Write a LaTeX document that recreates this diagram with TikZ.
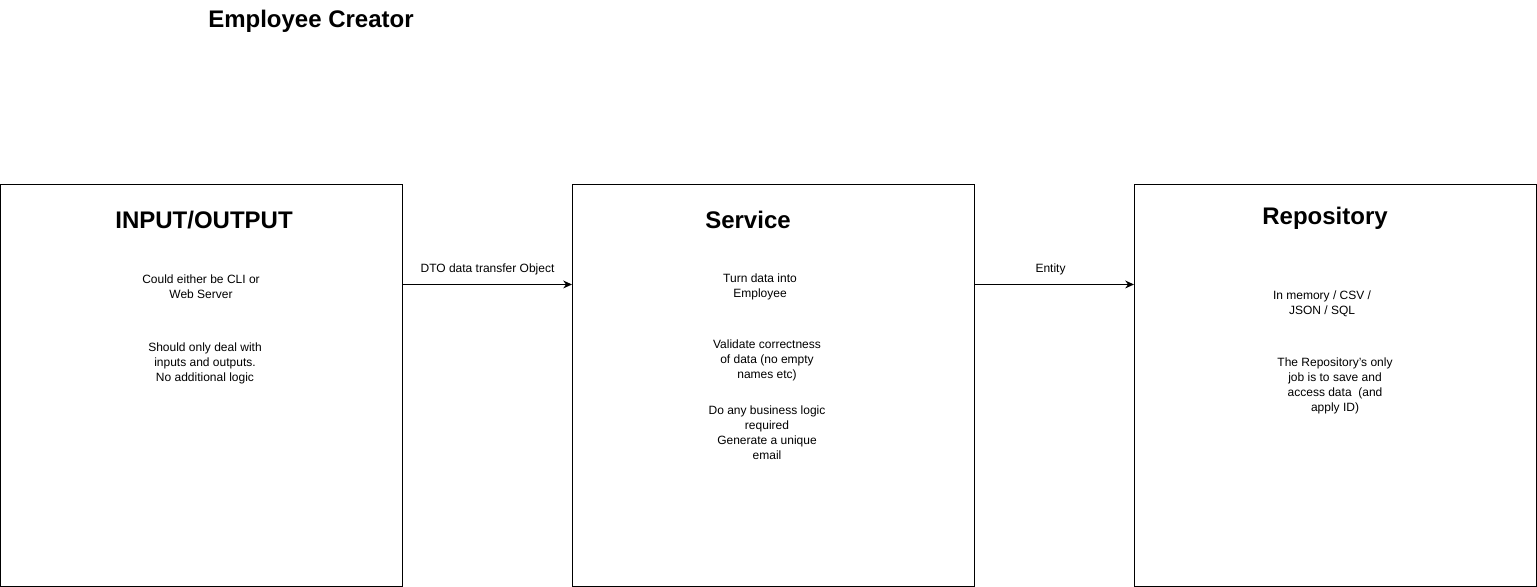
\documentclass[tikz,border=0pt]{standalone}
\usepackage{fontspec}
\setmainfont{Liberation Sans}
\usetikzlibrary{calc}
\usetikzlibrary{positioning}
\usetikzlibrary{arrows.meta}

\begin{document}
\begin{tikzpicture}[x=0.02cm, y=-0.02cm, >=Stealth]
			\tikzset{
				layer/.style={draw, line width=0.6pt, minimum width=402*0.02cm, minimum height=402*0.02cm, inner sep=0pt},
				heading/.style={font=\fontsize{13.66}{16}\selectfont\bfseries},
				note/.style={font=\fontsize{6.83}{8.54}\selectfont, align=center, inner sep=0pt},
				flow/.style={->, line width=0.6pt, >={Stealth[length=5pt,width=4.5pt]}}
			}
			\useasboundingbox (0,0) rectangle (1537,587);
			\node[heading] (title) at (311,21) {Employee Creator};
			% the three layers
			\node[layer] (io) at (201.5,385.5) {};
			\node[layer] (svc) at (773.5,385.5) {};
			\node[layer] (repo) at (1335.5,385.5) {};
			\node[heading] (iohead) at (204,220) {INPUT/OUTPUT};
			\node[heading] (svchead) at (748,220) {Service};
			\node[heading] (repohead) at (1325,218) {Repository};
			% notes inside the layers
			\node[note] (io1) at (201,286.5) {Could either be CLI or\\Web Server};
			\node[note] (io2) at (205,363) {Should only deal with\\inputs and outputs.\\No additional logic};
			\node[note] (svc1) at (760,286.5) {Turn data into\\Employee};
			\node[note] (svc2) at (767,360) {Validate correctness\\of data (no empty\\names etc)};
			\node[note] (svc3) at (767,433) {Do any business logic\\required\\Generate a unique\\email};
			\node[note] (repo1) at (1322,304) {In memory / CSV /\\JSON / SQL};
			\node[note] (repo2) at (1335,385.5) {The Repository's only\\job is to save and\\access data~~(and\\apply ID)};
			% connectors
			\draw[flow] ($(io.north east)+(0,100.5)$) -- node[note, above=5pt, midway] (dto) {DTO data transfer Object} ($(svc.north west)+(0,100.5)$);
			\draw[flow] ($(svc.north east)+(0,100.5)$) -- node[note, above=5pt, midway, xshift=-4*0.02cm] (ent) {Entity} ($(repo.north west)+(0,100.5)$);
		\end{tikzpicture}
\end{document}
